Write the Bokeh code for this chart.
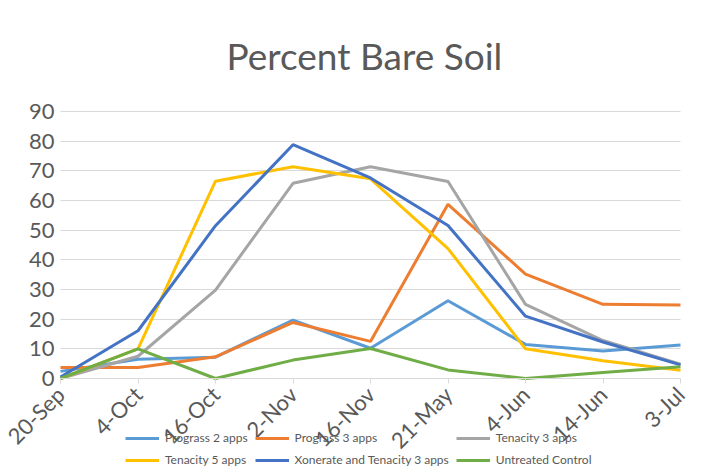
import math
from bokeh.plotting import figure
from bokeh.models import Range1d, FixedTicker, Legend, LegendItem, Title
from bokeh.embed import file_html
from bokeh.resources import INLINE

dates = ["20-Sep", "4-Oct", "16-Oct", "2-Nov", "16-Nov", "21-May", "4-Jun", "14-Jun", "3-Jul"]

prograss_2 = [2.4, 6.5, 7.2, 19.7, 10.2, 26.2, 11.5, 9.3, 11.3]
prograss_3 = [3.7, 3.7, 7.3, 18.9, 12.5, 58.7, 35.2, 25.0, 24.8]
tenacity_3 = [0.0, 7.5, 29.8, 65.8, 71.4, 66.4, 25.0, 12.8, 4.8]
tenacity_5 = [0.0, 10.0, 66.5, 71.4, 67.3, 43.8, 10.0, 6.0, 2.8]
xonerate_ten_3 = [0.5, 16.1, 51.5, 78.8, 67.6, 51.6, 21.0, 12.3, 4.6]
untreated = [0.0, 10.0, 0.0, 6.2, 10.1, 2.9, 0.0, 2.0, 4.0]

series_names = ["Prograss 2 apps", "Prograss 3 apps", "Tenacity 3 apps",
                "Tenacity 5 apps", "Xonerate and Tenacity 3 apps", "Untreated Control"]
series_values = [prograss_2, prograss_3, tenacity_3, tenacity_5, xonerate_ten_3, untreated]
colors = ["#5B9BD5", "#ED7D31", "#A5A5A5", "#FFC000", "#4472C4", "#70AD47"]
y_ticks = [0, 10, 20, 30, 40, 50, 60, 70, 80, 90]

TXT = "#595959"
FONT = "Lato"

xs = list(range(len(dates)))
n = len(dates) - 1

# The frame covers the whole picture below the title so the axes' labels
# and the legend (which overlaps the date labels) are not clipped.
W, H = 713, 472
FRAME_TOP = 100
left_px, right_px, top90_px, bottom_px = 60, 680, 111, 378
px_per_x = (right_px - left_px) / n
px_per_y = (bottom_px - top90_px) / 90.0
x_lo = -left_px / px_per_x
x_hi = n + (W - right_px) / px_per_x
y_lo = -(H - bottom_px) / px_per_y
y_hi = 90 + (top90_px - FRAME_TOP) / px_per_y

p = figure(width=W, height=H, output_backend="svg", toolbar_location=None,
           x_range=Range1d(x_lo, x_hi), y_range=Range1d(y_lo, y_hi),
           min_border_left=0, min_border_right=0, min_border_top=FRAME_TOP, min_border_bottom=0)
p.outline_line_color = None
p.background_fill_color = "white"
p.border_fill_color = "white"

p.add_layout(Title(text="Percent Bare Soil", align="left", text_font=FONT,
                   text_font_size="37px", text_font_style="normal", text_color=TXT,
                   standoff=45, offset=226), "above")

renderers = []
for name, vals, c in zip(series_names, series_values, colors):
    r = p.line(xs, vals, line_color=c, line_width=3)
    renderers.append(r)

# x axis drawn at y=0
p.xaxis.fixed_location = 0
p.xaxis.bounds = (0, n)
p.xaxis.ticker = FixedTicker(ticks=xs)
p.xaxis.major_label_overrides = {i: d for i, d in enumerate(dates)}
p.xaxis.major_label_orientation = math.pi / 4
p.xaxis.major_label_text_font = FONT
p.xaxis.major_label_text_font_size = "22px"
p.xaxis.major_label_text_color = TXT
p.xaxis.axis_line_color = "#D9D9D9"
p.xaxis.major_tick_line_color = "#D9D9D9"
p.xaxis.major_tick_out = 5
p.xaxis.major_tick_in = 0
p.xaxis.minor_tick_line_color = None
p.xaxis.major_label_standoff = 7

# y axis drawn at the first date
p.yaxis.fixed_location = 0
p.yaxis.bounds = (0, 90)
p.yaxis.ticker = FixedTicker(ticks=y_ticks)
p.yaxis.major_label_text_font = FONT
p.yaxis.major_label_text_font_size = "22px"
p.yaxis.major_label_text_color = TXT
p.yaxis.axis_line_color = None
p.yaxis.major_tick_line_color = None
p.yaxis.major_tick_out = 0
p.yaxis.major_tick_in = 0
p.yaxis.minor_tick_line_color = None
p.yaxis.major_label_standoff = 6

p.xgrid.grid_line_color = None
p.ygrid.grid_line_color = "#D9D9D9"
p.ygrid.grid_line_width = 1
p.ygrid.cross_bounds = (0, n)

# legend: two rows, filled row by row like the reference
order = [0, 3, 1, 4, 2, 5]
items = [LegendItem(label=series_names[i], renderers=[renderers[i]]) for i in order]
legend = Legend(items=items, ncols=3, location=(125, 5),
                label_text_font=FONT, label_text_font_size="12px", label_text_color=TXT,
                glyph_width=34, glyph_height=12, label_standoff=6, spacing=7,
                padding=0, margin=0, border_line_color=None, background_fill_alpha=0,
                label_height=12)
p.add_layout(legend, "center")

open("out.html", "w").write(file_html(p, INLINE))
